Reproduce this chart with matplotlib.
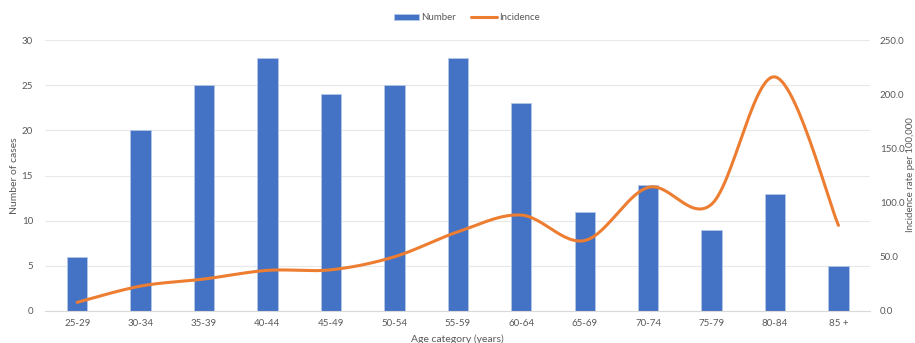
import numpy as np
import matplotlib.pyplot as plt

# data
age_groups = ["25-29", "30-34", "35-39", "40-44", "45-49", "50-54", "55-59",
              "60-64", "65-69", "70-74", "75-79", "80-84", "85 +"]
cases = [6, 20, 25, 28, 24, 25, 28, 23, 11, 14, 9, 13, 5]
incidence = [8.0, 23.0, 29.5, 37.5, 38.0, 50.0, 73.0, 88.5, 65.0, 114.0, 98.5, 216.0, 79.0]

BLUE = "#4472C4"
ORANGE = "#ED7D31"
GREY = "#595959"

plt.rcParams["font.family"] = ["Lato", "DejaVu Sans"]


def smooth_curve(x, y, steps=30):
    # bezier smoothing like the office "smoothed line" option
    x = np.asarray(x, float)
    y = np.asarray(y, float)
    xs, ys = [], []
    n = len(x)
    for i in range(n - 1):
        p0 = (x[max(i - 1, 0)], y[max(i - 1, 0)])
        p1 = (x[i], y[i])
        p2 = (x[i + 1], y[i + 1])
        p3 = (x[min(i + 2, n - 1)], y[min(i + 2, n - 1)])
        c1 = (p1[0] + (p2[0] - p0[0]) / 6, p1[1] + (p2[1] - p0[1]) / 6)
        c2 = (p2[0] - (p3[0] - p1[0]) / 6, p2[1] - (p3[1] - p1[1]) / 6)
        t = np.linspace(0, 1, steps)
        for a, b in ((0, xs), (1, ys)):
            b.extend((1 - t) ** 3 * p1[a] + 3 * (1 - t) ** 2 * t * c1[a]
                     + 3 * (1 - t) * t ** 2 * c2[a] + t ** 3 * p2[a])
    return np.array(xs), np.array(ys)


fig = plt.figure(figsize=(9.15, 3.43), dpi=100)
ax = fig.add_axes([0.0497, 0.0933, 0.9013, 0.79])
ax2 = ax.twinx()

pos = np.arange(len(age_groups))
bars = ax.bar(pos, cases, width=0.32, color=BLUE, edgecolor="#b4c7e7",
              linewidth=0.6, label="Number", zorder=2)

sx, sy = smooth_curve(pos, incidence)
line, = ax2.plot(sx, sy, color=ORANGE, lw=2.2, solid_capstyle="round",
                 label="Incidence", zorder=3)

ax.set_xlim(-0.5, len(age_groups) - 0.5)
ax.set_ylim(0, 30)
ax.set_yticks(range(0, 31, 5))
ax2.set_ylim(0, 250)
ax2.set_yticks(range(0, 251, 50))
ax2.set_yticklabels([f"{v:.1f}" for v in range(0, 251, 50)])
ax.set_xticks(pos)
ax.set_xticklabels(age_groups)

ax.grid(axis="y", color="#e8e8e8", lw=0.8, zorder=0)
ax.set_axisbelow(True)
for a in (ax, ax2):
    for s in a.spines.values():
        s.set_visible(False)
    a.tick_params(length=0, labelsize=7, colors=GREY, pad=6)
ax.spines["bottom"].set_visible(True)
ax.spines["bottom"].set_color("#d9d9d9")
ax.tick_params(axis="y", pad=9)
ax2.tick_params(axis="y", pad=7)

ax.set_ylabel("Number of cases", fontsize=7.5, color=GREY)
ax.yaxis.set_label_coords(-0.032, 0.5)
# right axis title sits against the figure edge
fig.text(910.5 / 915, 1 - 175 / 343, "Incidence rate per 100,000", fontsize=7,
         color=GREY, rotation=90, ha="center", va="center")
ax.set_xlabel("Age category (years)", fontsize=7.5, color=GREY)
ax.xaxis.set_label_coords(0.5, -0.085)

fig.legend(handles=[bars, line], labels=["Number", "Incidence"], loc="center",
           bbox_to_anchor=(0.51, 0.948), ncol=2, frameon=False, fontsize=7,
           labelcolor=GREY, handlelength=2.6, handletextpad=0.2, columnspacing=1.6)

fig.savefig("out.png", dpi=100)
